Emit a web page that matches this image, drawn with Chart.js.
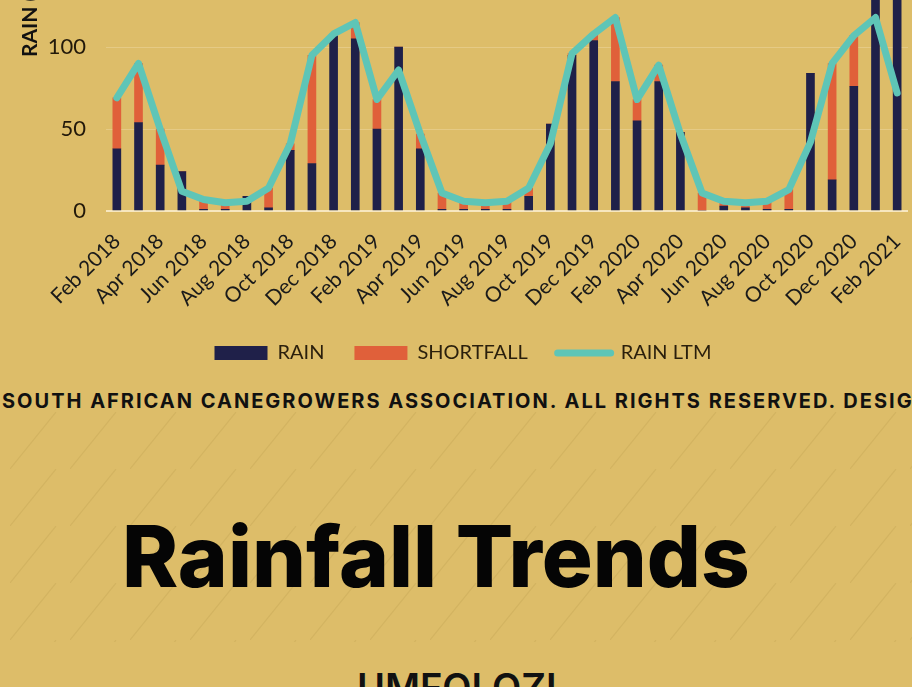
<!DOCTYPE html>
<html>
<head>
<meta charset="utf-8">
<script src="https://cdn.jsdelivr.net/npm/chart.js@4.4.1/dist/chart.umd.min.js"></script>
<style>
  html, body { margin: 0; padding: 0; }
  body {
    width: 912px; height: 687px; overflow: hidden; position: relative;
    background: #ddbd69;
  }
  #chartBox { position: absolute; left: 0; top: -232px; width: 912px; height: 605px; }
  #stripes {
    position: absolute; left: 0; top: 412px; width: 912px; height: 230px;
    background-image: url("data:image/svg+xml;utf8,<svg xmlns='http://www.w3.org/2000/svg' width='60' height='57'><line x1='0' y1='57' x2='46' y2='0' stroke='rgba(90,60,0,0.08)' stroke-width='1.2'/></svg>");
    background-position: 10px 0;
  }
  #rights {
    position: absolute; left: 2px; top: 391px; white-space: nowrap;
    font-family: Inter, sans-serif; font-weight: 700; font-size: 20px; line-height: 1;
    letter-spacing: 2px; color: #111;
  }
  #titulo {
    position: absolute; left: 122px; top: 514px; white-space: nowrap;
    font-family: Inter, sans-serif; font-weight: 800; font-size: 85px; line-height: 1;
    color: #050505;
  }
  #region {
    position: absolute; left: 357px; top: 668px; white-space: nowrap;
    font-family: Inter, sans-serif; font-weight: 600; font-size: 38px; line-height: 1;
    color: #111;
  }
</style>
</head>
<body>
<div id="stripes"></div>
<div id="chartBox"><canvas id="graficoLluvia"></canvas></div>
<div id="rights">SOUTH AFRICAN CANEGROWERS ASSOCIATION. ALL RIGHTS RESERVED. DESIGNED</div>
<div id="titulo">Rainfall Trends</div>
<div id="region">UMFOLOZI</div>

<script>
// meses Feb 2018 .. Feb 2021
const meses = [
  'Feb 2018','Mar 2018','Apr 2018','May 2018','Jun 2018','Jul 2018','Aug 2018','Sep 2018','Oct 2018','Nov 2018','Dec 2018',
  'Jan 2019','Feb 2019','Mar 2019','Apr 2019','May 2019','Jun 2019','Jul 2019','Aug 2019','Sep 2019','Oct 2019','Nov 2019','Dec 2019',
  'Jan 2020','Feb 2020','Mar 2020','Apr 2020','May 2020','Jun 2020','Jul 2020','Aug 2020','Sep 2020','Oct 2020','Nov 2020','Dec 2020',
  'Jan 2021','Feb 2021'
];
const lluvia = [38,54,28,24,1,1,9,2,37,29,107, 105,50,100,38,1,1,1,1,9,53,95,104, 79,55,79,48,0,3,2,1,1,84,19,76, 175,150];
const deficit = [31,36,22,0,6,4,0,12,4,66,1, 10,18,0,9,10,5,4,5,5,0,1,4, 39,13,10,0,11,3,3,5,12,0,71,31, 0,0];
const lluviaLTM = [69,90,50,12,7,5,6,14,41,95,108, 115,68,86,47,11,6,5,6,14,41,96,108, 118,68,89,47,11,6,5,6,13,42,90,107, 118,72];
const ticksY = [0, 50, 100, 150, 200, 250];

document.addEventListener('DOMContentLoaded', () => {
  const ctx = document.getElementById('graficoLluvia').getContext('2d');
  const fuente = 'Lato, "Open Sans", sans-serif';

  const config = {
    data: {
      labels: meses,
      datasets: [
        { type: 'bar', label: 'RAIN', data: lluvia, backgroundColor: '#1f2049', borderWidth: 0, barThickness: 8, stack: 'lluvia', order: 1 },
        { type: 'bar', label: 'SHORTFALL', data: deficit, backgroundColor: '#e0603a', borderWidth: 0, barThickness: 8, stack: 'lluvia', order: 1 },
        { type: 'line', label: 'RAIN LTM', data: lluviaLTM, borderColor: '#5ec5b7', backgroundColor: '#5ec5b7',
          borderWidth: 7, borderCapStyle: 'round', borderJoinStyle: 'round', tension: 0, pointRadius: 0, stack: 'ltm', order: 0 }
      ]
    },
    options: {
      responsive: true,
      maintainAspectRatio: false,
      animation: false,
      layout: { padding: { left: 18, right: 4, top: 0, bottom: 0 } },
      plugins: {
        tooltip: { enabled: false },
        legend: {
          position: 'bottom',
          labels: {
            font: { family: fuente, size: 20 },
            color: '#2a1f0c',
            usePointStyle: true,
            pointStyleWidth: 53,
            boxHeight: 14,
            padding: 30,
            sort: (a, b) => a.datasetIndex - b.datasetIndex,
            generateLabels: (chart) => {
              const items = Chart.defaults.plugins.legend.labels.generateLabels(chart);
              items.forEach(it => {
                it.pointStyle = it.datasetIndex === 2 ? 'line' : 'rect';
                if (it.datasetIndex === 2) { it.lineWidth = 7; it.lineCap = 'round'; }
              });
              return items;
            }
          }
        }
      },
      scales: {
        x: {
          stacked: true,
          grid: { display: false, drawTicks: false },
          border: { display: false },
          afterFit: (scale) => { scale.paddingLeft = 0; scale.paddingRight = 0; scale.height = 102; },
          ticks: {
            autoSkip: false, maxRotation: 45, minRotation: 45, padding: 18,
            color: '#1a1a1a', font: { family: fuente, size: 21 },
            callback: (v, i) => (i % 2 === 0 ? meses[i] : '')
          }
        },
        y: {
          stacked: true,
          min: 0, max: 250,
          afterBuildTicks: (axis) => { axis.ticks = ticksY.map(v => ({ value: v })); },
          afterFit: (scale) => { scale.width = 88; },
          grid: {
            drawTicks: false,
            color: (c) => c.tick && c.tick.value === 0 ? 'rgba(255,245,220,0.75)' : 'rgba(255,245,220,0.25)',
            lineWidth: (c) => c.tick && c.tick.value === 0 ? 2 : 1
          },
          border: { display: false },
          ticks: { padding: 20, color: '#22190a', font: { family: fuente, size: 22 } },
          title: {
            display: true, text: 'RAIN (mm)', color: '#111',
            font: { family: fuente, size: 21, weight: 'bold' },
            padding: { top: 0, bottom: 0 }
          }
        }
      }
    }
  };

  new Chart(ctx, config);
});
</script>
</body>
</html>
